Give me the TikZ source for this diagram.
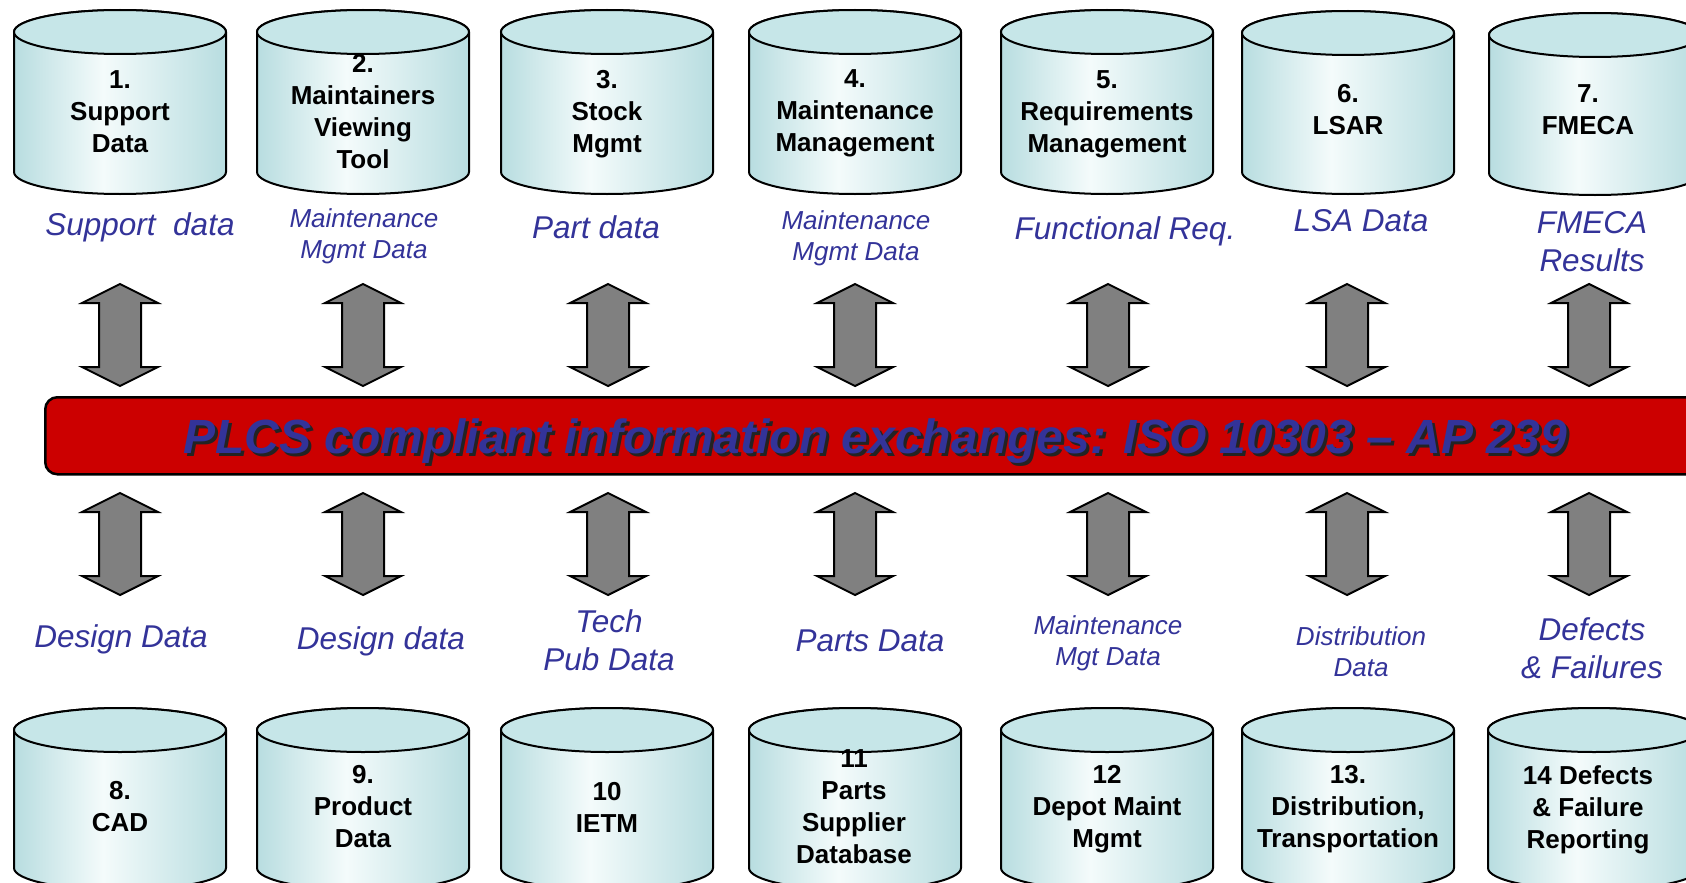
\documentclass[tikz,border=0pt]{standalone}
\usepackage{fontspec}
\setmainfont{Liberation Sans}
\definecolor{cylEdge}{RGB}{184,221,224}
\definecolor{cylLight}{RGB}{244,251,251}
\definecolor{cylTop}{RGB}{198,230,232}
\definecolor{lblBlue}{RGB}{51,51,153}
\definecolor{bannerRed}{RGB}{204,0,0}
\definecolor{arrGray}{RGB}{128,128,128}
\definecolor{shadowGray}{RGB}{35,35,35}
\pgfdeclarehorizontalshading{cylgrad}{100bp}{color(0bp)=(cylEdge); color(25bp)=(cylEdge); color(46bp)=(cylLight); color(75bp)=(cylEdge); color(100bp)=(cylEdge)}
\tikzset{
  cylline/.style={draw=black, line width=2pt},
  cyltext/.style={font=\bfseries\fontsize{26}{32}\selectfont, align=center, inner sep=0pt, anchor=north, text=black},
  biglbl/.style={font=\itshape\fontsize{31.5}{38}\selectfont, text=lblBlue, align=center, inner sep=0pt, anchor=north},
  smalllbl/.style={font=\itshape\fontsize{26}{31}\selectfont, text=lblBlue, align=center, inner sep=0pt, anchor=north},
  blockarrow/.style={fill=arrGray, draw=black, line width=2pt, line join=miter},
  dblarrow/.pic={\path[blockarrow] (0,1) -- (38,20) -- (21,20) -- (21,84) -- (38,84) -- (0,103) -- (-38,84) -- (-21,84) -- (-21,20) -- (-38,20) -- cycle;},
  bannerbox/.style={draw=black, line width=2.5pt, fill=bannerRed, rounded corners=12pt, inner sep=0pt, anchor=north west, minimum width=1700pt, minimum height=77pt},
  bannertext/.style={font=\bfseries\itshape\fontsize{48}{58}\selectfont, inner sep=0pt, anchor=base}
}
\newcommand\drawcyl[3]{%
  \shade[shading=cylgrad, cylline] (#1-106,#2) -- (#1-106,#3) arc[start angle=180, end angle=0, x radius=106, y radius=22] -- (#1+106,#2) arc[start angle=0, end angle=-180, x radius=106, y radius=22] -- cycle;
  \filldraw[fill=cylTop, cylline] (#1,#2) ellipse[x radius=106, y radius=22];
}
\begin{document}
\begin{tikzpicture}[x=1pt,y=-1pt]
\useasboundingbox (0,0) rectangle (1686,883);
\fill[white] (0,0) rectangle (1686,883);
% top cylinders
\drawcyl{120}{32}{172}
\drawcyl{363}{32}{172}
\drawcyl{607}{32}{172}
\drawcyl{855}{32}{172}
\drawcyl{1107}{32}{172}
\drawcyl{1348}{33}{172}
\drawcyl{1595}{35}{173}
\node[cyltext] (c1) at (120,70.4) {1.\\Support\\Data};
\node[cyltext] (c2) at (363,54.4) {2.\\Maintainers\\Viewing\\Tool};
\node[cyltext] (c3) at (607,70.4) {3.\\Stock\\Mgmt};
\node[cyltext] (c4) at (855,69.4) {4.\\Maintenance\\Management};
\node[cyltext] (c5) at (1107,70.4) {5.\\Requirements\\Management};
\node[cyltext] (c6) at (1348,84.4) {6.\\LSAR};
\node[cyltext] (c7) at (1588,84.4) {7.\\FMECA};
% bottom cylinders
\drawcyl{120}{730}{868}
\drawcyl{363}{730}{868}
\drawcyl{607}{730}{868}
\drawcyl{855}{730}{868}
\drawcyl{1107}{730}{868}
\drawcyl{1348}{730}{868}
\drawcyl{1594}{730}{868}
\node[cyltext] (c8) at (120,781.4) {8.\\CAD};
\node[cyltext] (c9) at (363,765.4) {9.\\Product\\Data};
\node[cyltext] (c10) at (607,782.4) {10\\IETM};
\node[cyltext] (c11) at (854,749.4) {11\\Parts\\Supplier\\Database};
\node[cyltext] (c12) at (1107,765.4) {12\\Depot Maint\\Mgmt};
\node[cyltext] (c13) at (1348,765.4) {13.\\Distribution,\\Transportation};
\node[cyltext] (c14) at (1588,765.4) {14 Defects\\\& Failure\\Reporting};
% top labels
\node[biglbl] (l1) at (140,212.5) {Support\ \ data};
\node[smalllbl] (l2) at (364,208.4) {Maintenance\\Mgmt Data};
\node[biglbl] (l3) at (596,215.5) {Part data};
\node[smalllbl] (l4) at (856,210.4) {Maintenance\\Mgmt Data};
\node[biglbl] (l5) at (1125,216.5) {Functional Req.};
\node[biglbl] (l6) at (1361,209.5) {LSA Data};
\node[biglbl] (l7) at (1592,211.5) {FMECA\\Results};
% bottom labels
\node[biglbl] (l8) at (121,624.5) {Design Data};
\node[biglbl] (l9) at (381,626.5) {Design data};
\node[biglbl] (l10) at (609,609.5) {Tech\\Pub Data};
\node[biglbl] (l11) at (870,629.5) {Parts Data};
\node[smalllbl] (l12) at (1108,615.4) {Maintenance\\Mgt Data};
\node[smalllbl] (l13) at (1361,626.4) {Distribution\\Data};
\node[biglbl] (l14) at (1592,617.5) {Defects\\\& Failures};
% arrows
\foreach \x/\n in {120/1,363/2,608/3,855/4,1108/5,1347/6,1589/7}{
  \coordinate (u\n) at (\x,283);
  \pic at (u\n) {dblarrow};
  \coordinate (d\n) at (\x,492);
  \pic at (d\n) {dblarrow};
}
% banner
\node[bannerbox] (bus) at (44,396) {};
\node[bannertext, text=shadowGray] (busshadow) at (878,456) {PLCS compliant information exchanges: ISO 10303 -- AP 239};
\node[bannertext, text=lblBlue] (bustext) at (875,453) {PLCS compliant information exchanges: ISO 10303 -- AP 239};
\end{tikzpicture}
\end{document}
